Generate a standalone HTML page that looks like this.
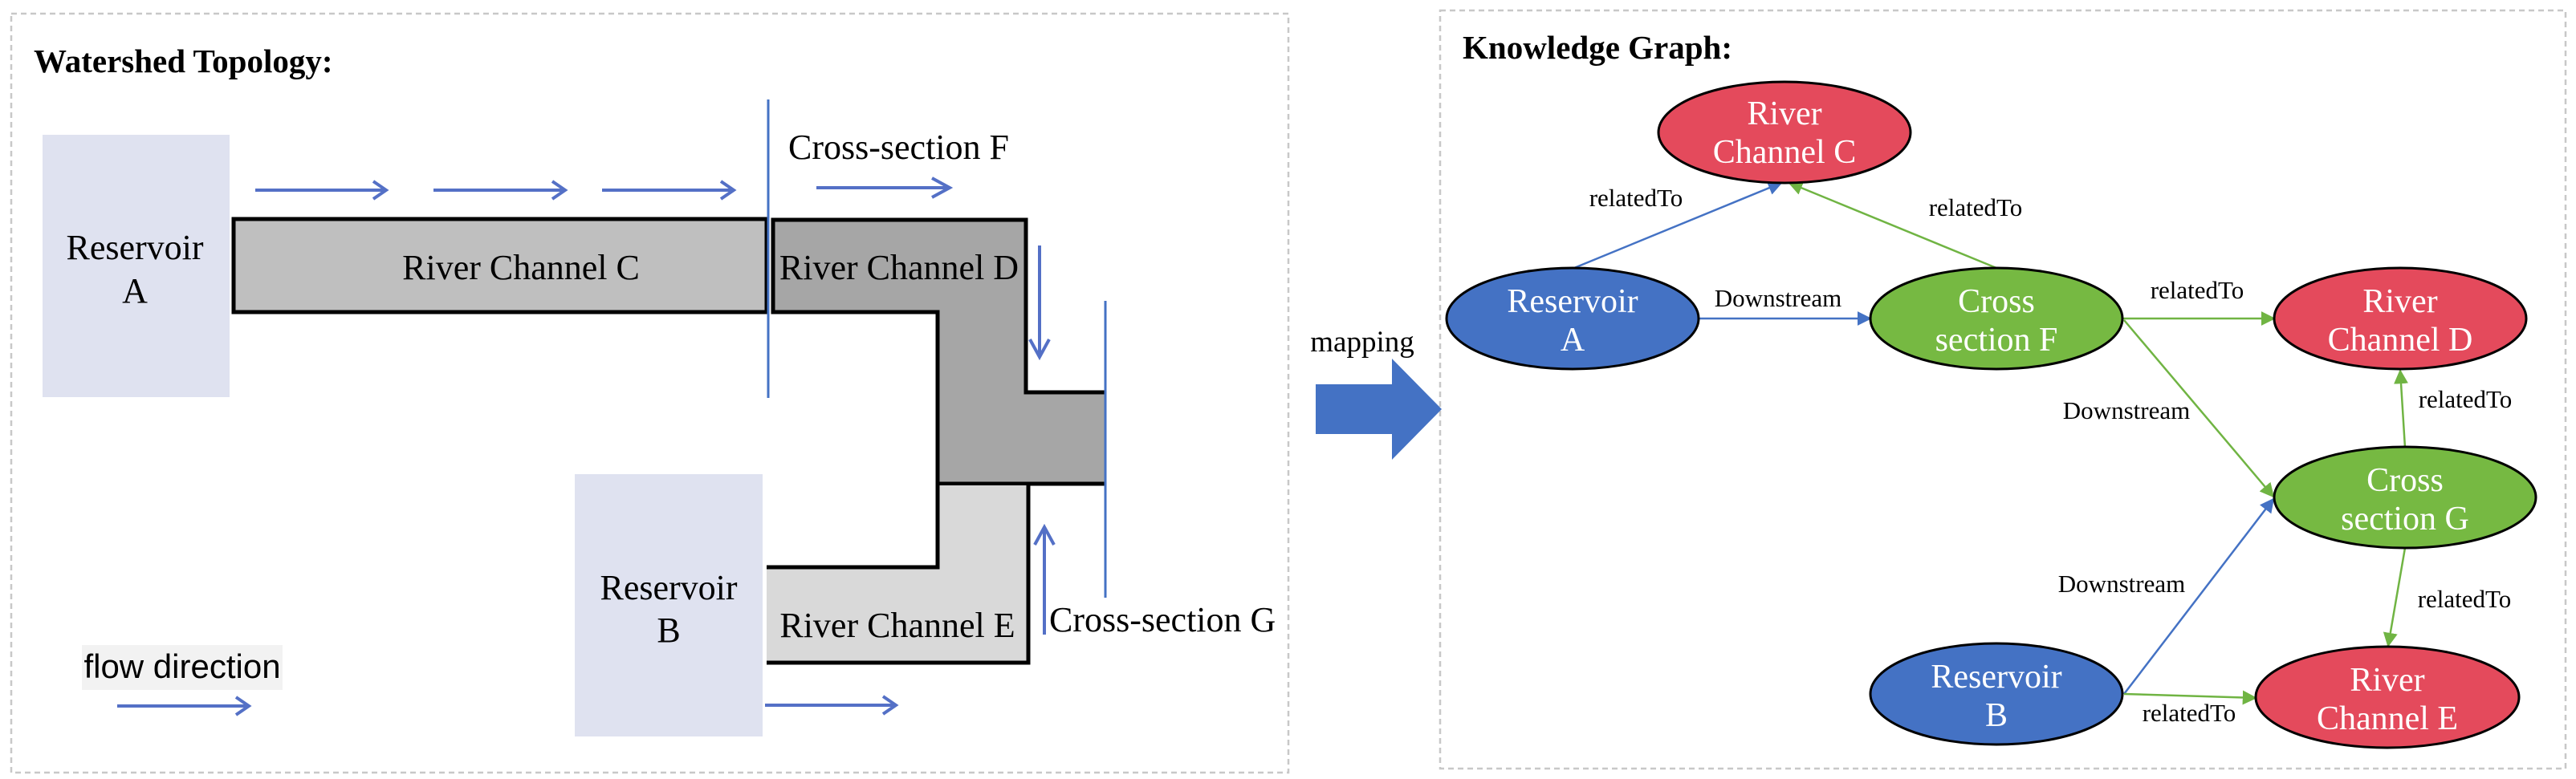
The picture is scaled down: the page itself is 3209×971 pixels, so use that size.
<!DOCTYPE html>
<html><head><meta charset="utf-8"><style>html,body{margin:0;padding:0;background:#fff}svg{display:block}</style></head>
<body>
<svg width="3209" height="971" viewBox="0 0 3209 971" xmlns="http://www.w3.org/2000/svg" font-family="'Liberation Serif', serif">
<defs>
<marker id="mb" viewBox="0 0 10 10" refX="9" refY="5" markerWidth="18" markerHeight="18" markerUnits="userSpaceOnUse" orient="auto"><path d="M0,0 L10,5 L0,10 z" fill="#4472c4"/></marker>
<marker id="mg" viewBox="0 0 10 10" refX="9" refY="5" markerWidth="18" markerHeight="18" markerUnits="userSpaceOnUse" orient="auto"><path d="M0,0 L10,5 L0,10 z" fill="#70b443"/></marker>
</defs>
<rect x="14" y="17" width="1591" height="946" fill="none" stroke="#c8c8c8" stroke-width="2.5" stroke-dasharray="7,5"/>
<rect x="1794" y="13" width="1402" height="945" fill="none" stroke="#c8c8c8" stroke-width="2.5" stroke-dasharray="7,5"/>
<text x="42" y="90" font-size="41" font-weight="bold">Watershed Topology:</text>
<rect x="53" y="168" width="233" height="327" fill="#dfe2f0"/>
<text x="168" y="323" font-size="44" text-anchor="middle">Reservoir</text>
<text x="168" y="377" font-size="44" text-anchor="middle">A</text>
<rect x="716" y="591" width="234" height="327" fill="#dfe2f0"/>
<text x="833" y="747" font-size="44" text-anchor="middle">Reservoir</text>
<text x="833" y="800" font-size="44" text-anchor="middle">B</text>
<rect x="291" y="273" width="664" height="116" fill="#bfbfbf" stroke="#000" stroke-width="5"/>
<polygon points="963,274 1278,274 1278,489 1376,489 1376,603 1168,603 1168,389 963,389" fill="#a6a6a6"/>
<polyline points="1376,489 1278,489 1278,274 963,274 963,389 1168,389 1168,603 1376,603" fill="none" stroke="#000" stroke-width="5"/>
<polygon points="955,707 1168,707 1168,605 1281,605 1281,826 955,826" fill="#d9d9d9"/>
<polyline points="955,707 1168,707 1168,605" fill="none" stroke="#000" stroke-width="5"/>
<polyline points="1281,605 1281,826 955,826" fill="none" stroke="#000" stroke-width="5"/>
<text x="649" y="348" font-size="44" text-anchor="middle">River Channel C</text>
<text x="1120" y="348" font-size="44" text-anchor="middle">River Channel D</text>
<text x="1118" y="794" font-size="44" text-anchor="middle">River Channel E</text>
<line x1="957" y1="124" x2="957" y2="496" stroke="#4472c4" stroke-width="3"/>
<line x1="1377" y1="375" x2="1377" y2="745" stroke="#4472c4" stroke-width="3"/>
<text x="982" y="198" font-size="44">Cross-section F</text>
<text x="1307" y="787" font-size="44">Cross-section G</text>
<g stroke="#5470c6" stroke-width="4" fill="none">
<path d="M318,237 H481 M465,226 L481,237 L465,248"/>
<path d="M540,237 H704 M688,226 L704,237 L688,248"/>
<path d="M750,237 H914 M898,226 L914,237 L898,248"/>
<path d="M1017,234 H1183 M1161,222 L1183,234 L1161,246"/>
<path d="M1295,306 V445 M1283,423 L1295,445 L1307,423"/>
<path d="M1301,791 V657 M1289,679 L1301,657 L1313,679"/>
<path d="M953,879 H1116 M1100,868 L1116,879 L1100,890"/>
<path d="M146,880 H310 M294,869 L310,880 L294,891"/>
</g>
<rect x="102" y="804" width="250" height="56" fill="#f2f2f2"/>
<text x="227" y="845" font-size="42" font-family="'Liberation Sans', sans-serif" text-anchor="middle">flow direction</text>
<text x="1697" y="438" font-size="37" text-anchor="middle">mapping</text>
<polygon points="1639,479 1734,479 1734,447 1796,510 1734,573 1734,541 1639,541" fill="#4472c4"/>
<text x="1822" y="73" font-size="41" font-weight="bold">Knowledge Graph:</text>
<g stroke-width="2.5" fill="none">
<line x1="1961" y1="334" x2="2219" y2="228" stroke="#4472c4" marker-end="url(#mb)"/>
<line x1="2487" y1="334" x2="2229" y2="228" stroke="#70b443" marker-end="url(#mg)"/>
<line x1="2116" y1="397" x2="2330" y2="397" stroke="#4472c4" marker-end="url(#mb)"/>
<line x1="2643" y1="397" x2="2833" y2="397" stroke="#70b443" marker-end="url(#mg)"/>
<line x1="2646" y1="399" x2="2832" y2="619" stroke="#70b443" marker-end="url(#mg)"/>
<line x1="2996" y1="558" x2="2990" y2="462" stroke="#70b443" marker-end="url(#mg)"/>
<line x1="2996" y1="683" x2="2975" y2="805" stroke="#70b443" marker-end="url(#mg)"/>
<line x1="2646" y1="865" x2="2832" y2="622" stroke="#4472c4" marker-end="url(#mb)"/>
<line x1="2646" y1="865" x2="2810" y2="870" stroke="#70b443" marker-end="url(#mg)"/>
</g>
<g stroke="#000" stroke-width="3">
<ellipse cx="2223" cy="165" rx="157" ry="63" fill="#e44a5c"/>
<ellipse cx="1959" cy="397" rx="157" ry="63" fill="#4472c4"/>
<ellipse cx="2487" cy="397" rx="157" ry="63" fill="#76b942"/>
<ellipse cx="2990" cy="397" rx="157" ry="63" fill="#e44a5c"/>
<ellipse cx="2996" cy="620" rx="163" ry="63" fill="#76b942"/>
<ellipse cx="2487" cy="865" rx="157" ry="63" fill="#4472c4"/>
<ellipse cx="2974" cy="869" rx="164" ry="63" fill="#e44a5c"/>
</g>
<g fill="#fff" font-size="42" text-anchor="middle">
<text x="2223" y="155">River</text><text x="2223" y="203">Channel C</text>
<text x="1959" y="389">Reservoir</text><text x="1959" y="437">A</text>
<text x="2487" y="389">Cross</text><text x="2487" y="437">section F</text>
<text x="2990" y="389">River</text><text x="2990" y="437">Channel D</text>
<text x="2996" y="612">Cross</text><text x="2996" y="660">section G</text>
<text x="2487" y="857">Reservoir</text><text x="2487" y="905">B</text>
<text x="2974" y="861">River</text><text x="2974" y="909">Channel E</text>
</g>
<g font-size="31" text-anchor="middle">
<text x="2038" y="257">relatedTo</text>
<text x="2461" y="269">relatedTo</text>
<text x="2215" y="382">Downstream</text>
<text x="2737" y="372">relatedTo</text>
<text x="2649" y="522">Downstream</text>
<text x="3071" y="508">relatedTo</text>
<text x="2643" y="738">Downstream</text>
<text x="3070" y="757">relatedTo</text>
<text x="2727" y="899">relatedTo</text>
</g>
</svg>
</body></html>
